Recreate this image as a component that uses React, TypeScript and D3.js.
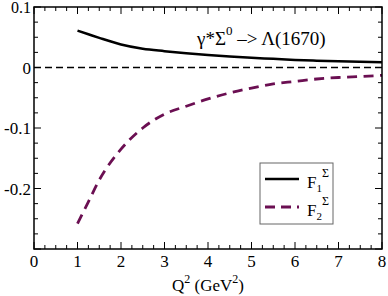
import * as d3 from 'd3';

// Q^2 values (GeV^2) where the curves were read
const q2 = [1, 1.25, 1.5, 2, 2.5, 3, 3.5, 4, 4.5, 5, 5.5, 6, 6.5, 7, 7.5, 8];
// F1^Sigma (solid black)
const f1 = [0.061, 0.055, 0.049, 0.038, 0.031, 0.027, 0.0235, 0.0205, 0.018, 0.016, 0.0143, 0.0125, 0.0113, 0.0103, 0.0095, 0.0088];
// F2^Sigma (dashed purple)
const f2 = [-0.258, -0.222, -0.186, -0.135, -0.100, -0.077, -0.064, -0.052, -0.042, -0.034, -0.027, -0.023, -0.019, -0.0165, -0.0148, -0.013];

const xTicks = [0, 1, 2, 3, 4, 5, 6, 7, 8];
const yTicks = [0.1, 0, -0.1, -0.2];
const yTickLabels = ['0.1', '0', '-0.1', '-0.2'];

const W = 388, H = 296;
const m = { left: 34, right: 6, top: 7, bottom: 47 };
const purple = '#6b0f52';
const FONT = "'Liberation Serif', 'Times New Roman', Times, 'DejaVu Serif', 'Noto Serif', serif";

export default function App() {
  const x = d3.scaleLinear().domain([0, 8]).range([m.left, W - m.right]);
  const y = d3.scaleLinear().domain([-0.3, 0.1]).range([H - m.bottom, m.top]);
  const line = d3.line<number>().x((_, i) => x(q2[i])).y(d => y(d)).curve(d3.curveMonotoneX);

  const xMinor = d3.range(0, 8.001, 0.25);
  const yMinor = d3.range(-0.3, 0.1001, 0.025);
  const x0 = x(0), x1 = x(8), yB = y(-0.3), yT = y(0.1);

  return (
    <svg width={W} height={H}
      style={{ position: 'absolute', left: 0, top: 0, background: '#fff' }}>
      {/* ticks */}
      <g stroke="#000" strokeWidth={1}>
        {xMinor.map((v, i) => {
          const major = Math.abs(v - Math.round(v)) < 1e-6;
          const len = major ? 7 : 4;
          return (
            <g key={'xt' + i}>
              <line x1={x(v)} x2={x(v)} y1={yB} y2={yB - len} />
              <line x1={x(v)} x2={x(v)} y1={yT} y2={yT + len} />
            </g>
          );
        })}
        {yMinor.map((v, i) => {
          const major = Math.abs(v * 10 - Math.round(v * 10)) < 1e-6;
          const len = major ? 7 : 4;
          return (
            <g key={'yt' + i}>
              <line x1={x0} x2={x0 + len} y1={y(v)} y2={y(v)} />
              <line x1={x1} x2={x1 - len} y1={y(v)} y2={y(v)} />
            </g>
          );
        })}
      </g>
      {/* zero line */}
      <line x1={x0} x2={x1} y1={y(0)} y2={y(0)} stroke="#000" strokeWidth={1.5} strokeDasharray="7,4" />
      {/* curves */}
      <path d={line(f1) || ''} fill="none" stroke="#000" strokeWidth={2.5} />
      <path d={line(f2) || ''} fill="none" stroke={purple} strokeWidth={2.8} strokeDasharray="10,6.5" />
      {/* frame */}
      <rect x={x0} y={yT} width={x1 - x0} height={yB - yT} fill="none" stroke="#000" strokeWidth={1.5} />
      <g style={{ fontFamily: FONT }}>
        {/* tick labels */}
        {xTicks.map(v => (
          <text key={'xl' + v} x={x(v)} y={yB + 18} textAnchor="middle" fontSize={17}>{v}</text>
        ))}
        {yTicks.map((v, i) => (
          <text key={'yl' + i} x={x0 - 3} y={y(v) + 6} textAnchor="end" fontSize={i === 0 ? 16 : 17}>{yTickLabels[i]}</text>
        ))}
        {/* axis title */}
        <text x={x(4)} y={291} textAnchor="middle" fontSize={17}>
          Q<tspan dy={-8} fontSize={12}>2</tspan><tspan dy={8}> (GeV</tspan><tspan dy={-8} fontSize={12}>2</tspan><tspan dy={8}>)</tspan>
        </text>
        {/* annotation */}
        <text x={197} y={45} fontSize={19}>
          γ*Σ<tspan dy={-10} fontSize={13}>0</tspan><tspan dy={10}> –&gt; Λ(1670)</tspan>
        </text>
        {/* legend */}
        <rect x={260} y={163} width={73} height={61} fill="#fff" stroke="#666" strokeWidth={1} />
        <line x1={265} x2={299} y1={179} y2={179} stroke="#000" strokeWidth={2.5} />
        <line x1={265} x2={299} y1={207} y2={207} stroke={purple} strokeWidth={2.8} strokeDasharray="10,6" />
        <text x={307} y={188} fontSize={17}>
          F<tspan dy={4} fontSize={11}>1</tspan><tspan dy={-15} fontSize={12}>Σ</tspan>
        </text>
        <text x={307} y={216} fontSize={17}>
          F<tspan dy={4} fontSize={11}>2</tspan><tspan dy={-15} fontSize={12}>Σ</tspan>
        </text>
      </g>
    </svg>
  );
}
